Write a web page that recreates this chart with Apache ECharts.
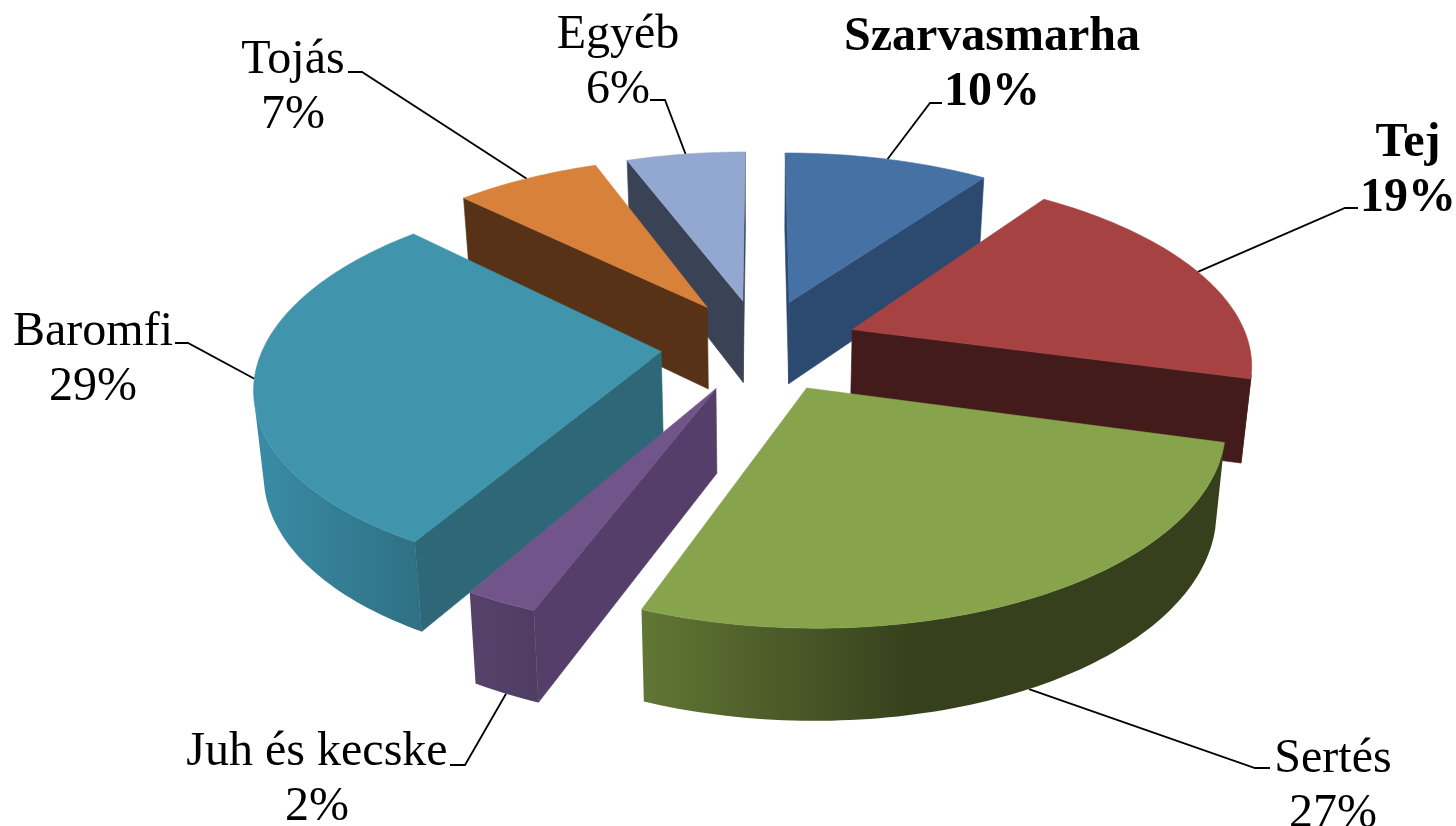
<!DOCTYPE html>
<html>
<head>
<meta charset="utf-8">
<title>Megoszlás</title>
<style>
html,body{margin:0;padding:0;background:#fff;}
#chart{width:1456px;height:826px;}
</style>
<script src="https://cdn.jsdelivr.net/npm/echarts@6/dist/echarts.min.js"></script>
</head>
<body>
<div id="chart"></div>
<script>
var categories = ['Szarvasmarha', 'Tej', 'Sertés', 'Juh és kecske', 'Baromfi', 'Tojás', 'Egyéb'];
// labels show them rounded
var shares = [9.9, 19.3, 26.6, 2.45, 29, 7, 5.75];

// styling per slice, same order as categories
var topColors = ['#4671a5', '#a64342', '#87a34c', '#71558a', '#4095ad', '#d8813b', '#93a8d0'];
var sideColors = ['#2c4a6f', '#431b1a', '#36401c', '#553e6a', '#2e6878', '#583216', '#3a4356'];
var arcStops = {
    2: [[0, '#617735'], [0.47, '#36401c'], [1, '#36401c']],
    3: [[0, '#56416b'], [1, '#503d63']],
    4: [[0, '#3a8ca6'], [1, '#2f7084']]
};
var boldLabels = [true, true, false, false, false, false, false];
var labelPos = [[992, 65], [1408, 171], [1333, 787], [317, 780], [93, 360], [293, 88], [618, 63]];
var leaderKnee = [[[930, 103], [942, 103]], [[1345, 208], [1358, 208]], [[1255, 768], [1270, 768]],
    [[465, 765], [450, 765]], [[188, 343], [175, 343]], [[362, 72], [348, 72]], [[665, 100], [650, 100]]];

// pie seen in perspective
var cx = 760, cy = 345, rx = 397, ry = 186, persp = 0.161;
var explode = 0.25, height = 83, bottomShrink = 0.98;

var total = shares.reduce(function (a, b) { return a + b; }, 0);
var angles = [];
shares.reduce(function (sum, v, i) {
    angles[i] = [sum / total * 2 * Math.PI, (sum + v) / total * 2 * Math.PI];
    return sum + v;
}, 0);

function project(u, v, lower) {
    var w = 1 - persp * v;
    var x = rx * u / w, y = ry * v / w;
    if (lower) {
        return [cx + x * bottomShrink, cy + y + height / Math.sqrt(w)];
    }
    return [cx + x, cy + y];
}

function rimPoint(i, a, lower) {
    var mid = (angles[i][0] + angles[i][1]) / 2;
    return project(Math.sin(a) + explode * Math.sin(mid), -Math.cos(a) - explode * Math.cos(mid), lower);
}

function apexPoint(i, lower) {
    var mid = (angles[i][0] + angles[i][1]) / 2;
    return project(explode * Math.sin(mid), -explode * Math.cos(mid), lower);
}

function quadArea(p) {
    var s = 0;
    for (var k = 0; k < p.length; k++) {
        var q = p[(k + 1) % p.length];
        s += p[k][0] * q[1] - q[0] * p[k][1];
    }
    return s / 2;
}

function poly(points, fill, z2) {
    return {
        type: 'polygon',
        z2: z2,
        shape: { points: points },
        style: { fill: fill, stroke: typeof fill === 'string' ? fill : null, lineWidth: typeof fill === 'string' ? 0.6 : 0 }
    };
}

function renderSlice(params, api) {
    var i = api.value(0);
    var a0 = angles[i][0], a1 = angles[i][1];
    var steps = Math.max(8, Math.round((a1 - a0) / 0.02));
    var upper = [], lower = [];
    for (var s = 0; s <= steps; s++) {
        var a = a0 + (a1 - a0) * s / steps;
        upper.push(rimPoint(i, a, false));
        lower.push(rimPoint(i, a, true));
    }
    var apex = apexPoint(i, false), apexLow = apexPoint(i, true);
    var base = (params.dataIndex + 1) * 10;
    var children = [];

    // outer curved wall, only the part turned towards the viewer
    var frontTop = [], frontLow = [];
    for (s = 0; s < steps; s++) {
        if (quadArea([upper[s], upper[s + 1], lower[s + 1], lower[s]]) < 0) {
            if (!frontTop.length) {
                frontTop.push(upper[s]);
                frontLow.push(lower[s]);
            }
            frontTop.push(upper[s + 1]);
            frontLow.push(lower[s + 1]);
        }
    }
    if (frontTop.length) {
        var fill = sideColors[i];
        if (arcStops[i]) {
            fill = {
                type: 'linear', x: 0, y: 0, x2: 1, y2: 0,
                colorStops: arcStops[i].map(function (c) { return { offset: c[0], color: c[1] }; })
            };
        }
        children.push(poly(frontTop.concat(frontLow.reverse()), fill, base + 1));
    }

    // the two straight walls
    var wallA = [apex, upper[0], lower[0], apexLow];
    var wallB = [upper[steps], apex, apexLow, lower[steps]];
    if (quadArea(wallA) < 0) children.push(poly(wallA, sideColors[i], base + 2));
    if (quadArea(wallB) < 0) children.push(poly(wallB, sideColors[i], base + 2));

    // top face
    children.push(poly([apex].concat(upper), topColors[i], base + 3));

    return { type: 'group', children: children };
}

function renderLabel(params, api) {
    var i = api.value(0);
    var mid = (angles[i][0] + angles[i][1]) / 2;
    var onFront = Math.cos(mid) < -0.7;
    var start = rimPoint(i, mid, onFront);
    return {
        type: 'group',
        children: [{
            type: 'polyline',
            z2: 1,
            shape: { points: [start].concat(leaderKnee[i]) },
            style: { fill: null, stroke: '#000', lineWidth: 1.8 }
        }, {
            type: 'text',
            z2: 200,
            style: {
                text: categories[i] + '\n' + Math.round(shares[i]) + '%',
                x: labelPos[i][0],
                y: labelPos[i][1],
                align: 'center',
                verticalAlign: 'middle',
                fontFamily: '"Liberation Serif"',
                fontSize: 48,
                fontWeight: boldLabels[i] ? 'bold' : 'normal',
                lineHeight: 55,
                fill: '#000'
            }
        }]
    };
}

var indexed = categories.map(function (name, i) { return [i, shares[i], name]; });
// back slices first so the front ones cover them
var backToFront = indexed.slice().sort(function (p, q) {
    var mp = (angles[p[0]][0] + angles[p[0]][1]) / 2, mq = (angles[q[0]][0] + angles[q[0]][1]) / 2;
    return Math.cos(mq) - Math.cos(mp);
});

var chart = echarts.init(document.getElementById('chart'), null, { renderer: 'canvas' });
chart.setOption({
    backgroundColor: '#fff',
    animation: false,
    series: [{
        type: 'custom',
        coordinateSystem: 'none',
        renderItem: renderLabel,
        data: indexed,
        z: 1,
        silent: true
    }, {
        type: 'custom',
        coordinateSystem: 'none',
        renderItem: renderSlice,
        data: backToFront,
        z: 2,
        silent: true
    }]
});
</script>
</body>
</html>
